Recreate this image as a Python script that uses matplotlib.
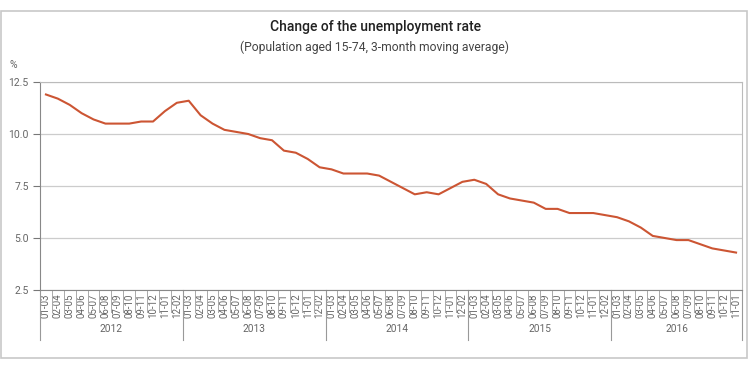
import matplotlib.pyplot as plt
from matplotlib.patches import Rectangle
import matplotlib.transforms as mtransforms
import numpy as np

plt.rcParams['font.family'] = ['Roboto', 'DejaVu Sans']

# Data
years = ['2012', '2013', '2014', '2015', '2016']
periods = ['01-03', '02-04', '03-05', '04-06', '05-07', '06-08',
           '07-09', '08-10', '09-11', '10-12', '11-01', '12-02']
rate_2012 = [11.9, 11.7, 11.4, 11.0, 10.7, 10.5, 10.5, 10.5, 10.6, 10.6, 11.1, 11.5]
rate_2013 = [11.6, 10.9, 10.5, 10.2, 10.1, 10.0, 9.8, 9.7, 9.2, 9.1, 8.8, 8.4]
rate_2014 = [8.3, 8.1, 8.1, 8.1, 8.0, 7.7, 7.4, 7.1, 7.2, 7.1, 7.4, 7.7]
rate_2015 = [7.8, 7.6, 7.1, 6.9, 6.8, 6.7, 6.4, 6.4, 6.2, 6.2, 6.2, 6.1]
rate_2016 = [6.0, 5.8, 5.5, 5.1, 5.0, 4.9, 4.9, 4.7, 4.5, 4.4, 4.3]

series = [rate_2012, rate_2013, rate_2014, rate_2015, rate_2016]
values = [v for s in series for v in s]
labels = [periods[i] for s in series for i in range(len(s))]
n = len(values)
x = np.arange(n) + 0.5

W, H = 750, 377
fig = plt.figure(figsize=(7.5, 3.77), dpi=100)

# outer frame
fig.patches.append(Rectangle((1 / W, 1 - 358 / H), 746 / W, 347 / H,
                             transform=fig.transFigure, fill=False,
                             edgecolor='#c8c8c8', linewidth=1.2))

ax = fig.add_axes([40 / W, 1 - 290 / H, 702 / W, 208 / H])
ax.plot(x, values, color='#cc5533', linewidth=1.5)

ax.set_xlim(0, n)
ax.set_ylim(2.5, 12.5)
ax.set_yticks([2.5, 5.0, 7.5, 10.0, 12.5])
ax.set_yticklabels(['2.5', '5.0', '7.5', '10.0', '12.5'])
ax.tick_params(axis='y', length=5, color='#777777', labelcolor='#666666',
               labelsize=7.5, pad=3)
ax.grid(axis='y', color='#cccccc', linewidth=0.9)
ax.set_axisbelow(True)
for side in ['left', 'bottom']:
    ax.spines[side].set_color('#888888')
for side in ['top', 'right']:
    ax.spines[side].set_color('#bbbbbb')

# category labels
ax.set_xticks(x)
ax.set_xticklabels(labels, rotation=90, fontsize=7, color='#666666')
ax.tick_params(axis='x', length=0, pad=2.5)

trans = mtransforms.blended_transform_factory(ax.transData, ax.transAxes)
cell_bottom = -(312 - 290) / 208
year_bottom = -(340 - 290) / 208
for i in range(n + 1):
    ax.plot([i, i], [0, cell_bottom], transform=trans, color='#aaaaaa',
            linewidth=0.7, clip_on=False)
start = 0
for yr, s in zip(years, series):
    ax.plot([start, start], [0, year_bottom], transform=trans, color='#999999',
            linewidth=0.8, clip_on=False)
    ax.text(start + len(s) / 2, -(329 - 290) / 208, yr, transform=trans,
            ha='center', va='center', fontsize=7.3, color='#666666')
    start += len(s)
ax.plot([start, start], [0, year_bottom], transform=trans, color='#999999',
        linewidth=0.8, clip_on=False)

fig.text(0.5, 1 - 27 / H, 'Change of the unemployment rate', ha='center',
         va='center', fontsize=10, fontweight='medium', color='#222222')
fig.text(0.5, 1 - 47 / H, '(Population aged 15-74, 3-month moving average)',
         ha='center', va='center', fontsize=8.7, color='#444444')
fig.text(10 / W, 1 - 65 / H, '%', ha='left', va='center', fontsize=7.5,
         color='#666666')

fig.savefig('out.png', dpi=100)
